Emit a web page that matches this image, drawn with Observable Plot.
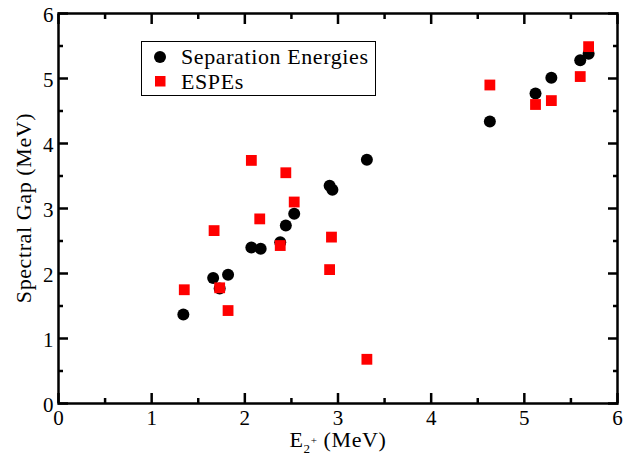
<!DOCTYPE html>
<html><head><meta charset="utf-8">
<script src="https://cdn.jsdelivr.net/npm/d3@7"></script>
<script src="https://cdn.jsdelivr.net/npm/@observablehq/plot@0.6"></script>
<style>body{margin:0;background:#fff}</style>
</head><body><div id="chart"></div>
<script>
const sepX = [1.34, 1.66, 1.73, 1.82, 2.07, 2.17, 2.38, 2.44, 2.53, 2.91, 2.94, 3.31, 4.63, 5.12, 5.29, 5.60, 5.69];
const sepY = [1.37, 1.93, 1.77, 1.98, 2.40, 2.38, 2.48, 2.74, 2.92, 3.35, 3.29, 3.75, 4.34, 4.77, 5.01, 5.28, 5.38];
const espeX = [1.35, 1.67, 1.73, 1.82, 2.07, 2.16, 2.38, 2.44, 2.53, 2.93, 2.91, 3.31, 4.63, 5.12, 5.29, 5.60, 5.69];
const espeY = [1.75, 2.66, 1.78, 1.43, 3.74, 2.84, 2.43, 3.55, 3.10, 2.56, 2.06, 0.68, 4.90, 4.60, 4.66, 5.03, 5.49];
const majorTicks = [0, 1, 2, 3, 4, 5, 6];
const minorTicks = [0.5, 1.5, 2.5, 3.5, 4.5, 5.5];
const seriesNames = ["Separation Energies", "ESPEs"];

const sep = sepX.map((x, i) => ({x, y: sepY[i]}));
const espe = espeX.map((x, i) => ({x, y: espeY[i]}));

const noText = () => "";
const tickAxes = [];
const sides = [
  ["x", "bottom", {dy: -1}],
  ["x", "top", {dy: 1}],
  ["y", "left", {dx: 1}],
  ["y", "right", {dx: -1}]
];
for (const [dim, anchor, dir] of sides) {
  const ax = dim === "x" ? Plot.axisX : Plot.axisY;
  for (const [ticks, len] of [[majorTicks, 10], [minorTicks, 5]]) {
    const off = {};
    for (const k in dir) off[k] = dir[k] * len;
    tickAxes.push(ax({anchor, ticks, tickSize: len, tickPadding: 0, strokeWidth: 2.5, tickFormat: noText, label: null, ...off}));
  }
}

const chart = Plot.plot({
  width: 631, height: 455,
  marginLeft: 58, marginRight: 14, marginTop: 13, marginBottom: 52,
  style: {fontFamily: "'Liberation Serif', serif", fontSize: "21px", background: "white", color: "black"},
  x: {domain: [0, 6]},
  y: {domain: [0, 6]},
  marks: [
    ...tickAxes,
    Plot.axisX({ticks: majorTicks, tickSize: 0, tickPadding: 7, tickFormat: "d", label: null, fontSize: 21}),
    Plot.axisY({ticks: majorTicks, tickSize: 0, tickPadding: 5, tickFormat: "d", label: null, fontSize: 21, dy: 2}),
    Plot.dot(sep, {x: "x", y: "y", r: 6, fill: "black", stroke: "none"}),
    Plot.dot(espe, {x: "x", y: "y", symbol: "square", r: 6.1, fill: "#ff0000", stroke: "none"}),
    Plot.frame({stroke: "black", strokeWidth: 2.5})
  ]
});
document.getElementById("chart").appendChild(chart);

const svg = d3.select(chart);
const serif = "'Liberation Serif', serif";
// axis titles
const xl = svg.append("text").attr("x", 338).attr("y", 447).attr("text-anchor", "middle")
  .attr("font-family", serif).attr("font-size", 22).attr("letter-spacing", 0.6).attr("fill", "black");
xl.append("tspan").text("E");
xl.append("tspan").attr("font-size", 13).attr("dy", 6).text("2");
xl.append("tspan").attr("font-size", 11).attr("dy", -9).text("+");
xl.append("tspan").attr("dy", 3).text(" (MeV)");
svg.append("text").attr("transform", "translate(31,208) rotate(-90)").attr("text-anchor", "middle")
  .attr("font-family", serif).attr("font-size", 22).attr("letter-spacing", 0.6).attr("fill", "black")
  .text("Spectral Gap (MeV)");

// legend
const lg = svg.append("g");
lg.append("rect").attr("x", 141.5).attr("y", 41.5).attr("width", 234).attr("height", 54)
  .attr("fill", "white").attr("stroke", "black").attr("stroke-width", 1);
lg.append("circle").attr("cx", 160).attr("cy", 57).attr("r", 6).attr("fill", "black");
lg.append("rect").attr("x", 155).attr("y", 76).attr("width", 10.5).attr("height", 10.5).attr("fill", "#ff0000");
seriesNames.forEach((n, i) => {
  lg.append("text").attr("x", 181).attr("y", 64 + i * 25).attr("text-anchor", "start")
    .attr("font-family", serif).attr("font-size", 22).attr("letter-spacing", 0.6).attr("fill", "black").text(n);
});
</script>
</body></html>
